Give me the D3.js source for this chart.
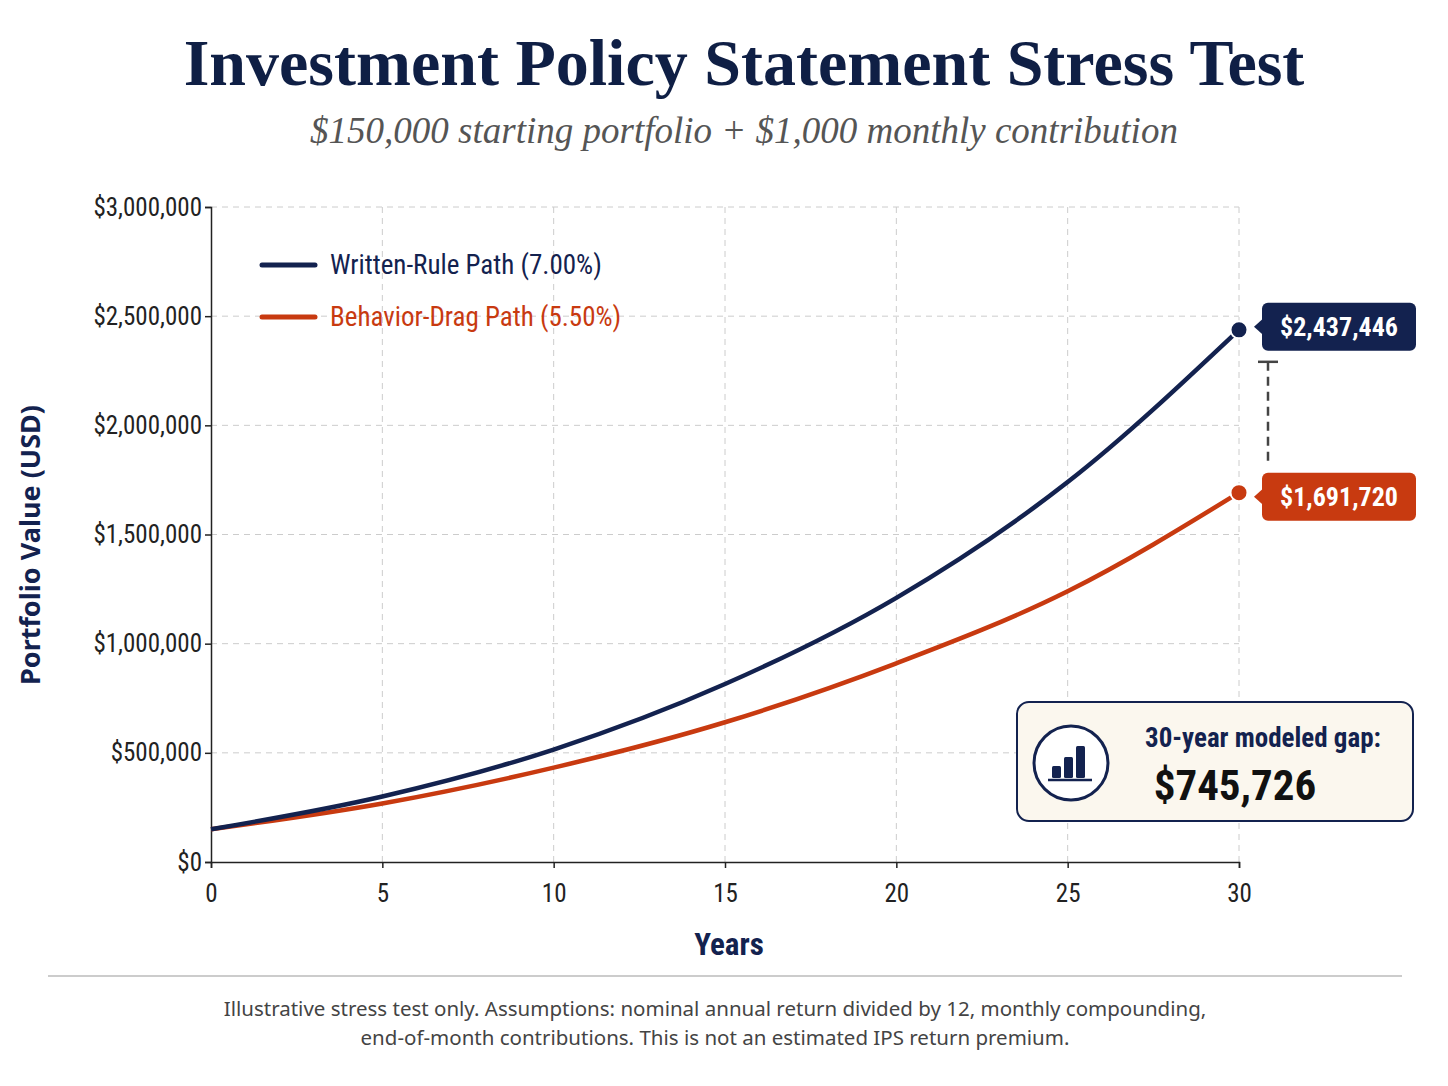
<!DOCTYPE html><html><head><meta charset="utf-8">
<script src="https://cdn.jsdelivr.net/npm/d3@7/dist/d3.min.js"></script>
<style>body{margin:0;background:#fff}</style></head><body>
<svg id="c" width="1448" height="1086"></svg>
<script>
const years=[0,5,10,15,20,25,30];
const writtenRule=[150000,300000,515000,815000,1210000,1740000,2437446];
const behaviorDrag=[150000,268000,432000,640000,910000,1240000,1691720];
const yTicks=[0,500000,1000000,1500000,2000000,2500000,3000000];
const xTicks=[0,5,10,15,20,25,30];
const navy="#13224f",orange="#c83a10";
const svg=d3.select("#c");
const x=d3.scaleLinear().domain([0,30]).range([211,1239]);
const y=d3.scaleLinear().domain([0,3000000]).range([862,207]);
const serif="'Liberation Serif','DejaVu Serif',serif", sans="'Liberation Sans Narrow','Roboto Condensed','Noto Sans',sans-serif";
svg.append("text").attr("x",744).attr("y",85).attr("text-anchor","middle").attr("font-family",serif).attr("font-weight","bold").attr("font-size",66).attr("fill","#0f1f45").text("Investment Policy Statement Stress Test");
svg.append("text").attr("x",744).attr("y",143).attr("text-anchor","middle").attr("font-family",serif).attr("font-style","italic").attr("font-size",37).attr("fill","#555").text("$150,000 starting portfolio + $1,000 monthly contribution");
const g=svg.append("g");
g.selectAll(".gy").data(yTicks.slice(1)).join("line").attr("x1",211).attr("x2",1239).attr("y1",d=>y(d)).attr("y2",d=>y(d)).attr("stroke","#ccc").attr("stroke-dasharray","6,5");
g.selectAll(".gx").data(xTicks.slice(1)).join("line").attr("y1",207).attr("y2",862).attr("x1",d=>x(d)).attr("x2",d=>x(d)).attr("stroke","#ccc").attr("stroke-dasharray","6,5");
const ya=svg.append("g").attr("transform","translate(211,0)").call(d3.axisLeft(y).tickValues(yTicks).tickFormat(d=>"$"+d3.format(",")(d)).tickSize(6));
const xa=svg.append("g").attr("transform","translate(0,862)").call(d3.axisBottom(x).tickValues(xTicks).tickSize(6));
[ya,xa].forEach(a=>{a.selectAll("text").attr("font-family",sans).attr("font-size",25).attr("fill","#222");a.selectAll("path,line").attr("stroke","#222").attr("stroke-width",1.5);});
ya.selectAll("text").attr("dy","0.32em");
xa.selectAll("text").attr("dy","1.25em");
svg.append("text").attr("transform","translate(40,545) rotate(-90)").attr("text-anchor","middle").attr("font-family","'Noto Sans',sans-serif").attr("font-weight","bold").attr("font-size",27).attr("fill",navy).text("Portfolio Value (USD)");
svg.append("text").attr("x",729).attr("y",955).attr("text-anchor","middle").attr("font-family",sans).attr("font-weight","bold").attr("font-size",31).attr("fill",navy).text("Years");
const line=d3.line().x((d,i)=>x(years[i])).y(d=>y(d)).curve(d3.curveMonotoneX);
svg.append("path").attr("d",line(behaviorDrag)).attr("fill","none").attr("stroke",orange).attr("stroke-width",4.5);
svg.append("path").attr("d",line(writtenRule)).attr("fill","none").attr("stroke",navy).attr("stroke-width",4.5);
[[writtenRule,navy],[behaviorDrag,orange]].forEach(([s,c])=>svg.append("circle").attr("cx",x(30)).attr("cy",y(s[6])).attr("r",8.5).attr("fill",c).attr("stroke","#fff").attr("stroke-width",2));
[["Written-Rule Path (7.00%)",navy,265],["Behavior-Drag Path (5.50%)",orange,317]].forEach(([t,c,yy])=>{
svg.append("line").attr("x1",262).attr("x2",315).attr("y1",yy).attr("y2",yy).attr("stroke",c).attr("stroke-width",5).attr("stroke-linecap","round");
svg.append("text").attr("x",330).attr("y",yy+9).attr("font-family",sans).attr("font-size",27).attr("fill",c).text(t);});
[[writtenRule[6],navy],[behaviorDrag[6],orange]].forEach(([v,c])=>{
const cy=y(v)+(c===orange?4:-3);
svg.append("path").attr("d",`M1254,${cy} L1264,${cy-9} L1264,${cy+9}Z`).attr("fill",c);
svg.append("rect").attr("x",1262).attr("y",cy-24).attr("width",154).attr("height",48).attr("rx",6).attr("fill",c);
svg.append("text").attr("x",1339).attr("y",cy+9).attr("text-anchor","middle").attr("font-family",sans).attr("font-weight","bold").attr("font-size",26).attr("fill","#fff").text("$"+d3.format(",")(v));});
svg.append("line").attr("x1",1268).attr("x2",1268).attr("y1",y(writtenRule[6])+32).attr("y2",y(behaviorDrag[6])-30).attr("stroke","#444").attr("stroke-width",2.5).attr("stroke-dasharray","9,6");
svg.append("line").attr("x1",1258).attr("x2",1278).attr("y1",y(writtenRule[6])+32).attr("y2",y(writtenRule[6])+32).attr("stroke","#444").attr("stroke-width",2.5);
svg.append("rect").attr("x",1017).attr("y",702).attr("width",396).attr("height",119).attr("rx",12).attr("fill","#fbf7ee").attr("stroke",navy).attr("stroke-width",2);
svg.append("circle").attr("cx",1071).attr("cy",763).attr("r",37).attr("fill","#fff").attr("stroke",navy).attr("stroke-width",3);
[[1052,766,12],[1064,757,21],[1076,746,32]].forEach(([bx,by,h])=>svg.append("rect").attr("x",bx).attr("y",by).attr("width",9).attr("height",h).attr("rx",1.5).attr("fill",navy));
svg.append("line").attr("x1",1048).attr("x2",1092).attr("y1",780).attr("y2",780).attr("stroke",navy).attr("stroke-width",2.5);
svg.append("text").attr("x",1263).attr("y",747).attr("text-anchor","middle").attr("font-family",sans).attr("font-weight","bold").attr("font-size",27).attr("fill",navy).text("30-year modeled gap:");
svg.append("text").attr("x",1235).attr("y",800).attr("text-anchor","middle").attr("font-family",sans).attr("font-weight","bold").attr("font-size",43).attr("fill","#111").text("$"+d3.format(",")(writtenRule[6]-behaviorDrag[6]));
svg.append("line").attr("x1",48).attr("x2",1402).attr("y1",976).attr("y2",976).attr("stroke","#bbb").attr("stroke-width",1.5);
["Illustrative stress test only. Assumptions: nominal annual return divided by 12, monthly compounding,","end-of-month contributions. This is not an estimated IPS return premium."].forEach((t,i)=>
svg.append("text").attr("x",715).attr("y",1016+i*29).attr("text-anchor","middle").attr("font-family","'Noto Sans',sans-serif").attr("font-size",20.5).attr("fill","#444").text(t));
</script></body></html>
